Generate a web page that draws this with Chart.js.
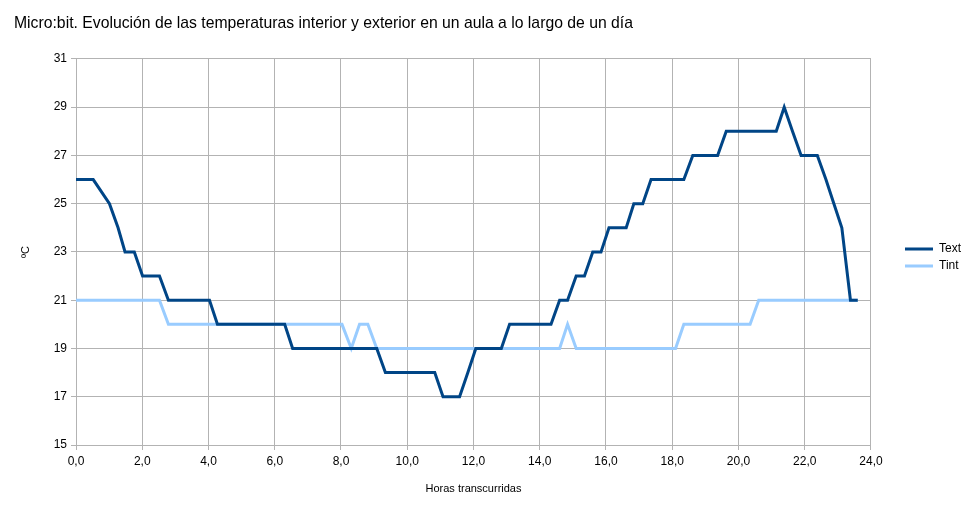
<!DOCTYPE html>
<html>
<head>
<meta charset="utf-8">
<script src="https://cdn.jsdelivr.net/npm/chart.js@4/dist/chart.umd.min.js"></script>
<style>
  html, body { margin: 0; padding: 0; background: #fff; }
  #wrap { width: 973px; height: 514px; }
</style>
</head>
<body>
<div id="wrap"><canvas id="chart" width="973" height="514"></canvas></div>
<script>
// Text (exterior) — hours and temperatures
const textHours = [0, 0.52, 1.01, 1.27, 1.48, 1.76, 2.01, 2.52, 2.79, 4.03, 4.27, 6.30, 6.54,
  9.08, 9.34, 10.83, 11.08, 11.58, 11.83, 12.07, 12.84, 13.09, 14.34, 14.60, 14.84, 15.10,
  15.35, 15.60, 15.85, 16.09, 16.61, 16.84, 17.11, 17.36, 18.35, 18.62, 19.37, 19.63, 21.14,
  21.38, 21.63, 21.89, 22.38, 22.64, 22.88, 23.12, 23.38, 23.60];
const textTemps = [26, 26, 25, 24, 23, 23, 22, 22, 21, 21, 20, 20, 19,
  19, 18, 18, 17, 17, 18, 19, 19, 20, 20, 21, 21, 22,
  22, 23, 23, 24, 24, 25, 25, 26, 26, 27, 27, 28, 28,
  29, 28, 27, 27, 26, 25, 24, 21, 21];

// Tint (interior)
const tintHours = [0, 2.52, 2.79, 8.03, 8.31, 8.56, 8.81, 9.08, 14.60, 14.84, 15.10,
  18.10, 18.35, 20.35, 20.61, 23.60];
const tintTemps = [21, 21, 20, 20, 19, 20, 20, 19, 19, 20, 19,
  19, 20, 20, 21, 21];

const seriesNames = ['Text', 'Tint'];
const seriesColors = ['#004586', '#99ccff'];

const xTicks = { min: 0, max: 24, step: 2 };
const yTicks = { min: 15, max: 31, step: 2 };

const chartTitle = 'Micro:bit. Evolución de las temperaturas interior y exterior en un aula a lo largo de un día';
const xTitle = 'Horas transcurridas';
const yTitle = 'ºC';

const toPoints = (xs, ys) => xs.map((x, i) => ({ x, y: ys[i] }));

Chart.defaults.font.family = '"Liberation Sans", Arial, sans-serif';
Chart.defaults.color = '#000';

const gridColor = '#b3b3b3';

// nudge the legend away from the plot, as in the original
const legendNudge = {
  id: 'legendNudge',
  afterLayout(chart) {
    const lg = chart.legend;
    if (!lg) return;
    lg.left += 29; lg.right += 29;
    lg.top += 0.5; lg.bottom += 0.5;
  }
};

new Chart(document.getElementById('chart'), {
  type: 'line',
  data: {
    datasets: [
      { label: seriesNames[0], data: toPoints(textHours, textTemps), borderColor: seriesColors[0], backgroundColor: seriesColors[0], borderWidth: 3, pointRadius: 0, tension: 0 },
      { label: seriesNames[1], data: toPoints(tintHours, tintTemps), borderColor: seriesColors[1], backgroundColor: seriesColors[1], borderWidth: 3, pointRadius: 0, tension: 0 }
    ]
  },
  options: {
    responsive: false,
    devicePixelRatio: 1,
    animation: false,
    layout: { padding: { left: 14, right: 31, top: 0, bottom: 0 } },
    plugins: {
      title: {
        display: true, text: chartTitle, align: 'start',
        font: { size: 15.75, weight: 'normal' }, color: '#000',
        padding: { top: 14, bottom: 26 }
      },
      legend: {
        position: 'right',
        labels: { usePointStyle: true, pointStyle: 'line', pointStyleWidth: 28, boxHeight: 12, padding: 5, font: { size: 12 }, color: '#000' }
      },
      tooltip: { enabled: false }
    },
    scales: {
      x: {
        type: 'linear', min: xTicks.min, max: xTicks.max,
        ticks: { stepSize: xTicks.step, padding: 4, font: { size: 12 }, callback: v => v.toFixed(1).replace('.', ',') },
        grid: { color: gridColor, tickLength: 5 },
        border: { color: gridColor },
        title: { display: true, text: xTitle, font: { size: 11 }, padding: { top: 0, bottom: 18.4 } },
        afterFit: s => { s.height = 69; }
      },
      y: {
        min: yTicks.min, max: yTicks.max,
        ticks: { stepSize: yTicks.step, padding: 4, font: { size: 12 } },
        grid: { color: gridColor, tickLength: 5 },
        border: { color: gridColor },
        title: { display: true, text: yTitle, font: { size: 11 }, padding: { top: 5, bottom: 0 } },
        afterFit: s => { s.width = 62; }
      }
    }
  },
  plugins: [legendNudge]
});
</script>
</body>
</html>
